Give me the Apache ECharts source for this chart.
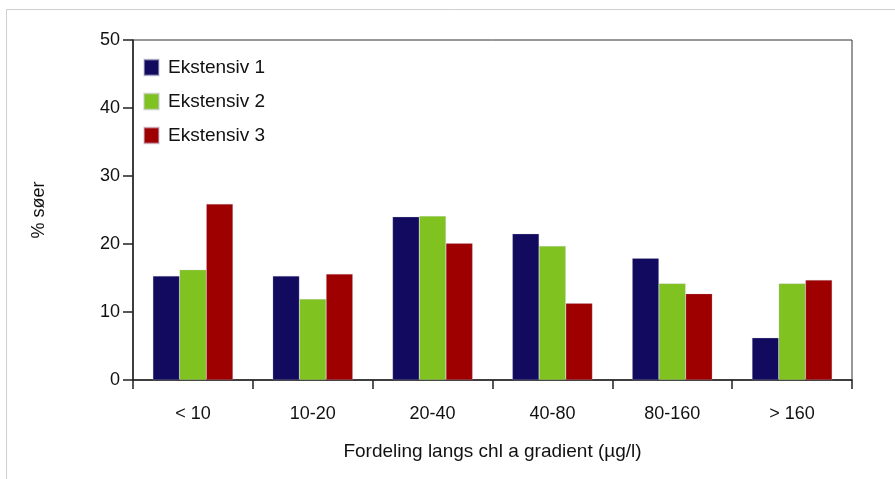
<!DOCTYPE html>
<html><head><meta charset="utf-8">
<script src="https://cdn.jsdelivr.net/npm/echarts@6/dist/echarts.min.js"></script>
<style>html,body{margin:0;padding:0;background:#fff}#c{width:895px;height:479px}</style>
</head><body><div id="c"></div>
<script>
const categories = ['< 10', '10-20', '20-40', '40-80', '80-160', '> 160'];
const seriesNames = ['Ekstensiv 1', 'Ekstensiv 2', 'Ekstensiv 3'];
const ekstensiv1 = [15.3, 15.3, 24.0, 21.5, 17.9, 6.2];
const ekstensiv2 = [16.2, 11.9, 24.1, 19.7, 14.2, 14.2];
const ekstensiv3 = [25.9, 15.6, 20.1, 11.3, 12.7, 14.7];
const yTicks = [0, 10, 20, 30, 40, 50];
const colors = ['#110a5e', '#80c21f', '#9e0000'];

const font = 'Liberation Sans, Arial, Helvetica, sans-serif';
const chart = echarts.init(document.getElementById('c'));
const data = [ekstensiv1, ekstensiv2, ekstensiv3];
chart.setOption({
  animation: false,
  graphic: [{
    type: 'polyline', silent: true, z: -1,
    shape: { points: [[6.5, 479], [6.5, 9.5], [895, 9.5]] },
    style: { stroke: '#cfcfcf', lineWidth: 1, fill: null }
  }],
  grid: { left: 133, right: 43, top: 40, bottom: 99, show: true, borderColor: '#333', borderWidth: 1, backgroundColor: 'transparent' },
  legend: {
    orient: 'vertical', left: 138, top: 53, itemWidth: 15, itemHeight: 16, itemGap: 15,
    icon: 'rect',
    textStyle: { fontFamily: font, fontSize: 19, lineHeight: 19, color: '#111', padding: [0, 0, 0, 4] },
    data: seriesNames
  },
  xAxis: {
    type: 'category', data: categories,
    name: 'Fordeling langs chl a gradient (µg/l)', nameLocation: 'middle', nameGap: 62,
    nameTextStyle: { fontFamily: font, fontSize: 19, color: '#111' },
    axisLine: { lineStyle: { color: '#222', width: 1.5 } },
    axisTick: { show: true, alignWithLabel: false, length: 9, lineStyle: { color: '#222', width: 1.5 } },
    axisLabel: { fontFamily: font, fontSize: 18, color: '#111', margin: 25 }
  },
  yAxis: {
    type: 'value', min: 0, max: 50, interval: 10,
    name: '% søer', nameLocation: 'middle', nameGap: 85, nameRotate: 90,
    nameTextStyle: { fontFamily: font, fontSize: 18, color: '#111' },
    axisLine: { show: true, lineStyle: { color: '#222', width: 1.5 } },
    axisTick: { show: true, inside: false, length: 10, lineStyle: { color: '#222', width: 1.5 } },
    axisLabel: { fontFamily: font, fontSize: 18, color: '#111', margin: 13,
      formatter: v => yTicks.includes(v) ? String(v) : '' },
    splitLine: { show: false }
  },
  series: seriesNames.map((n, i) => ({
    name: n, type: 'bar', data: data[i], barWidth: 26.7, barGap: '0%',
    itemStyle: { color: colors[i], borderColor: 'rgba(200,200,220,0.5)', borderWidth: 0.5 }
  }))
});
</script></body></html>
